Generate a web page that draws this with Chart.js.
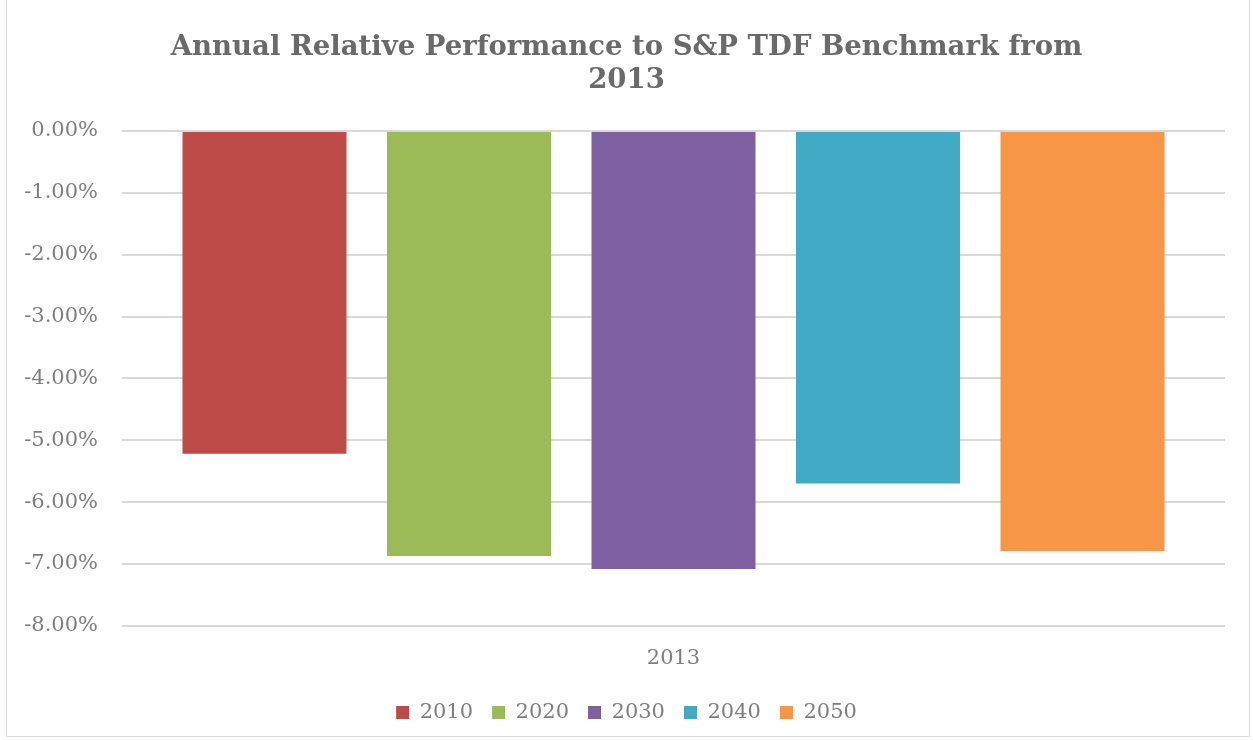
<!DOCTYPE html>
<html lang="en">
<head>
  <meta charset="UTF-8">
  <title>Annual Relative Performance to S&amp;P TDF Benchmark</title>
  <script src="https://cdn.jsdelivr.net/npm/chart.js"></script>
  <style>
    body { margin: 0; background: #fff; }
    #wrap { position: relative; width: 1253px; height: 740px; }
    #frame { position: absolute; left: 6px; top: -1px; width: 1244px; height: 738px; border: 1px solid #d9d9d9; box-sizing: border-box; pointer-events: none; }
  </style>
</head>
<body>
<div id="wrap">
  <canvas id="perfChart" width="1253" height="740"></canvas>
  <div id="frame"></div>
</div>

<script>
  // data
  const categories = ['2013'];
  const funds = ['2010', '2020', '2030', '2040', '2050'];
  const relPerf = [-5.22, -6.87, -7.08, -5.70, -6.79];
  const fundColors = ['#be4b48', '#9bbb59', '#7f60a0', '#43aac6', '#f79646'];
  const yTicks = [0, -1, -2, -3, -4, -5, -6, -7, -8];

  const serif = "'DejaVu Serif', 'Liberation Serif', serif";
  const grey = '#7f7f7f';

  new Chart(document.getElementById('perfChart'), {
    type: 'bar',
    data: {
      labels: categories,
      datasets: funds.map((f, i) => ({
        label: f,
        data: [relPerf[i]],
        backgroundColor: fundColors[i],
        barPercentage: 0.802,
        categoryPercentage: 0.927
      }))
    },
    options: {
      responsive: false,
      animation: false,
      layout: { padding: { left: 0, right: 0, top: 31, bottom: 7 } },
      plugins: {
        title: {
          display: true,
          text: ['Annual Relative Performance to S&P TDF Benchmark from', '2013'],
          color: '#6a6a6a',
          font: { family: serif, size: 27.5, weight: 'bold', lineHeight: 1.2 },
          padding: { top: 0, bottom: 34 }
        },
        legend: {
          position: 'bottom',
          labels: {
            color: grey,
            font: { family: serif, size: 21 },
            boxWidth: 13,
            boxHeight: 13,
            padding: 19
          }
        },
        tooltip: { enabled: false }
      },
      scales: {
        x: {
          grid: { display: false },
          border: { display: false },
          ticks: { color: grey, font: { family: serif, size: 21 }, padding: 12 }
        },
        y: {
          min: -8,
          max: 0,
          afterBuildTicks: s => { s.ticks = yTicks.map(v => ({ value: v })); },
          afterFit: s => { s.width = 122; },
          grid: { color: '#d9d9d9', lineWidth: 2, drawTicks: false },
          border: { display: false },
          ticks: {
            color: grey,
            font: { family: serif, size: 21 },
            padding: 24,
            callback: v => v.toFixed(2) + '%'
          }
        },
        // empty right gutter so the title and legend centre on the whole canvas
        gutter: {
          type: 'linear',
          position: 'right',
          afterFit: s => { s.width = 28; },
          grid: { display: false },
          border: { display: false },
          ticks: { display: false }
        }
      }
    }
  });
</script>
</body>
</html>
